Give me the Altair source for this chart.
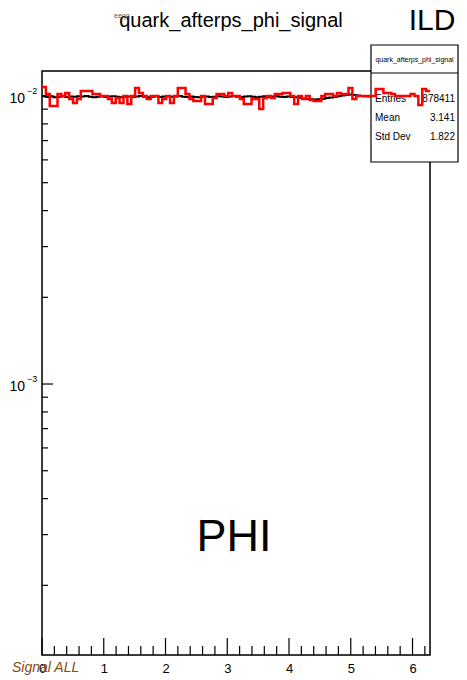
import math
import numpy as np
import pandas as pd
import altair as alt

# ---------------- data ----------------
n_bins = 100
x_min, x_max = 0.0, 2 * math.pi

red_vals = [
    0.01075, 0.01016, 0.00923, 0.00923, 0.01016, 0.01000, 0.01024, 0.00976, 0.00945, 0.00976,
    0.01041, 0.01041, 0.01041, 0.01016, 0.01016, 0.01000, 0.01000, 0.00976, 0.00945, 0.00984,
    0.00945, 0.01000, 0.00938, 0.01000, 0.01066, 0.01024, 0.01000, 0.00976, 0.01000, 0.01000,
    0.00945, 0.00976, 0.01000, 0.00945, 0.01000, 0.01066, 0.01066, 0.01016, 0.00976, 0.00961,
    0.00961, 0.01000, 0.00938, 0.00938, 0.00984, 0.01016, 0.01016, 0.01000, 0.01024, 0.01000,
    0.01000, 0.00976, 0.00938, 0.00938, 0.00976, 0.00976, 0.00901, 0.00984, 0.01000, 0.00984,
    0.01016, 0.01016, 0.01024, 0.01024, 0.01000, 0.00938, 0.01000, 0.00976, 0.01000, 0.00968,
    0.00961, 0.00961, 0.01000, 0.01016, 0.01016, 0.01000, 0.01024, 0.01016, 0.01016, 0.01066,
    0.00976, 0.01000, 0.01000, 0.01000, 0.01000, 0.01000, 0.01058, 0.01058, 0.01024, 0.01024,
    0.01016, 0.01000, 0.01000, 0.01000, 0.01000, 0.01016, 0.01000, 0.00930, 0.01058, 0.01041,
]

black_vals = [
    0.00998, 0.00992, 0.00995, 0.00990, 0.00994, 0.00997, 0.00991, 0.00996, 0.00993, 0.00998,
    0.00995, 0.00999, 0.00994, 0.00990, 0.00993, 0.00997, 0.00992, 0.00995, 0.00998, 0.00993,
    0.00990, 0.00994, 0.00996, 0.00991, 0.00995, 0.00999, 0.00993, 0.00990, 0.00994, 0.00997,
    0.00992, 0.00995, 0.00998, 0.00993, 0.00996, 0.00999, 0.00994, 0.00991, 0.00995, 0.00992,
    0.00989, 0.00993, 0.00996, 0.00991, 0.00994, 0.00998, 0.00995, 0.00992, 0.00996, 0.00999,
    0.00994, 0.00991, 0.00995, 0.00998, 0.00993, 0.00990, 0.00994, 0.00997, 0.00992, 0.00995,
    0.00998, 0.00994, 0.00991, 0.00995, 0.00992, 0.00989, 0.00985, 0.00980, 0.00976, 0.00974,
    0.00972, 0.00975, 0.00979, 0.00983, 0.00988, 0.00992, 0.00997, 0.01003, 0.01008, 0.01012,
    0.01008, 0.01004, 0.01000, 0.00997, 0.00995, 0.00998, 0.00994, 0.00996, 0.00999, 0.00995,
    0.00993, 0.00997, 0.00994, 0.00991, 0.00995, 0.00998, 0.00994, 0.00992, 0.00996, 0.00995,
]

x_major_ticks = [0, 1, 2, 3, 4, 5, 6]
x_minor_ticks = [0.2, 0.4, 0.6, 0.8, 1.2, 1.4, 1.6, 1.8, 2.2, 2.4, 2.6, 2.8,
                 3.2, 3.4, 3.6, 3.8, 4.2, 4.4, 4.6, 4.8, 5.2, 5.4, 5.6, 5.8, 6.2]
y_major_ticks = [0.01, 0.001]
y_major_exps = ["\u22122", "\u22123"]
y_minor_ticks = [0.0002, 0.0003, 0.0004, 0.0005, 0.0006, 0.0007, 0.0008, 0.0009,
                 0.002, 0.003, 0.004, 0.005, 0.006, 0.007, 0.008, 0.009]

y_domain = [1.146e-4, 0.01221]

stats_title = "quark_afterps_phi_signal"
stats_names = ["Entries", "Mean", "Std Dev"]
stats_values = ["878411", "3.141", "1.822"]

# ---------------- layout ----------------
W, H = 388, 584
FONT = "Liberation Sans"

edges = np.linspace(x_min, x_max, n_bins + 1)


def step_df(vals):
    xs = list(edges[:-1]) + [edges[-1]]
    ys = list(vals) + [vals[-1]]
    return pd.DataFrame({"x": xs, "y": ys})


XS = alt.Scale(domain=[x_min, x_max], nice=False, zero=False)
YS = alt.Scale(type="log", domain=y_domain, nice=False, zero=False)
XAXIS = alt.Axis(values=x_major_ticks, ticks=False, domain=False, grid=False,
                 labelPadding=7, labelFontSize=13, labelFont=FONT, labelColor="black",
                 labelFlush=False, title=None, format="d")


def X(field="x"):
    return alt.X(f"{field}:Q", scale=XS, axis=XAXIS)


def Y(field="y"):
    return alt.Y(f"{field}:Q", scale=YS, axis=None)


one = pd.DataFrame({"a": [0]})

frame = alt.Chart(one).mark_rect(filled=False, stroke="black", strokeWidth=1.5).encode(
    x=alt.value(0), x2=alt.value(W), y=alt.value(0), y2=alt.value(H)
)

black = alt.Chart(step_df(black_vals)).mark_line(
    interpolate="step-after", color="black", strokeWidth=2
).encode(x=X(), y=Y())

red = alt.Chart(step_df(red_vals)).mark_line(
    interpolate="step-after", color="#ff0000", strokeWidth=2.5
).encode(x=X(), y=Y())

xmaj = alt.Chart(pd.DataFrame({"x": x_major_ticks})).mark_rule(
    color="black", strokeWidth=1.2
).encode(x=X(), y=alt.value(H), y2=alt.value(H - 17))

xmin = alt.Chart(pd.DataFrame({"x": x_minor_ticks})).mark_rule(
    color="black", strokeWidth=1.2
).encode(x=X(), y=alt.value(H), y2=alt.value(H - 9))

ymaj = alt.Chart(pd.DataFrame({"y": y_major_ticks})).mark_rule(
    color="black", strokeWidth=1.2
).encode(y=Y(), x=alt.value(0), x2=alt.value(11))

ymin = alt.Chart(pd.DataFrame({"y": y_minor_ticks})).mark_rule(
    color="black", strokeWidth=1.2
).encode(y=Y(), x=alt.value(0), x2=alt.value(6))

ylab_df = pd.DataFrame({"y": y_major_ticks, "e": y_major_exps})
ylab10 = alt.Chart(ylab_df).mark_text(
    text="10", align="right", baseline="middle", fontSize=14, font=FONT, dy=3, color="black"
).encode(y=Y(), x=alt.value(-17))
ylabexp = alt.Chart(ylab_df).mark_text(
    align="left", baseline="middle", fontSize=9, font=FONT, dy=-5, color="black"
).encode(y=Y(), x=alt.value(-15), text="e:N")

# stats box
bx0, bx1, by0, by1, bdiv = 329, 416, -26, 91, 2
box = alt.Chart(one).mark_rect(fill="white", stroke="black", strokeWidth=1.2).encode(
    x=alt.value(bx0), x2=alt.value(bx1), y=alt.value(by0), y2=alt.value(by1)
)
divider = alt.Chart(one).mark_rule(color="black", strokeWidth=1.2).encode(
    x=alt.value(bx0), x2=alt.value(bx1), y=alt.value(bdiv)
)
box_title = alt.Chart(one).mark_text(
    text=stats_title, fontSize=7, font=FONT, align="center", baseline="middle", color="black"
).encode(x=alt.value((bx0 + bx1) / 2), y=alt.value(-11))

stats_df = pd.DataFrame({"name": stats_names, "val": stats_values, "row": [0, 1, 2]})
stat_names = alt.Chart(stats_df).mark_text(
    fontSize=10, font=FONT, align="left", baseline="middle", color="black"
).encode(text="name:N", x=alt.value(bx0 + 4),
         y=alt.Y("row:O", scale=alt.Scale(domain=[0, 1, 2], range=[18, 76]), axis=None))
stat_vals = alt.Chart(stats_df).mark_text(
    fontSize=10, font=FONT, align="right", baseline="middle", color="black"
).encode(text="val:N", x=alt.value(bx1 - 3),
         y=alt.Y("row:O", scale=alt.Scale(domain=[0, 1, 2], range=[18, 76]), axis=None))

# titles and annotations
title = alt.Chart(one).mark_text(
    text="quark_afterps_phi_signal", fontSize=20, font=FONT, align="center",
    baseline="middle", color="black"
).encode(x=alt.value(189), y=alt.value(-50))
small = alt.Chart(one).mark_text(
    text="eeqq", fontSize=7, font=FONT, align="left", baseline="middle", color="#555555"
).encode(x=alt.value(72), y=alt.value(-55))
ild = alt.Chart(one).mark_text(
    text="ILD", fontSize=30, font=FONT, align="center", baseline="middle", color="black"
).encode(x=alt.value(390), y=alt.value(-50))
phi = alt.Chart(one).mark_text(
    text="PHI", fontSize=45, font=FONT, align="center", baseline="middle", color="black"
).encode(x=alt.value(192), y=alt.value(466))
sig = alt.Chart(one).mark_text(
    text="Signal ALL", fontSize=14, font=FONT, fontStyle="italic", align="left",
    baseline="middle", color="#8B4A14"
).encode(x=alt.value(-30), y=alt.value(597))

chart = alt.layer(
    frame, black, xmin, xmaj, ymin, ymaj, ylab10, ylabexp,
    box, divider, box_title, stat_names, stat_vals,
    red, title, small, ild, phi, sig
).resolve_scale(y="independent").properties(
    width=W, height=H,
    autosize=alt.AutoSizeParams(type="none"),
    padding={"left": 34, "top": 63, "right": 29, "bottom": 25},
).configure_view(strokeWidth=0).configure(background="white")

chart.save("out.html", embed_options={"renderer": "svg", "actions": False})
